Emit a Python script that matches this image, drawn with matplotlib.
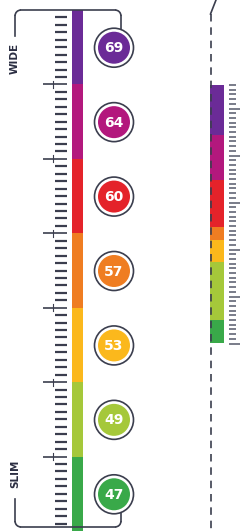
import matplotlib
matplotlib.use("Agg")
import matplotlib.pyplot as plt
import matplotlib.patches as mpatches
import numpy as np

# scale values shown in the circles, top (wide) to bottom (slim)
values = [69, 64, 60, 57, 53, 49, 47]
colors = ['#6b2b97', '#b3187d', '#e4232a', '#ef7d22', '#fbb81c', '#a5c83a', '#39a949']
labels = ['WIDE', 'SLIM']

# relative heights of the coloured parts in the small side bar
mini_sizes = [50, 45, 47, 13, 22, 58, 23]

INK = '#3b3e4e'

W, H = 242, 531
fig = plt.figure(figsize=(W / 100, H / 100), dpi=100)
ax = fig.add_axes([0, 0, 1, 1])
ax.set_xlim(0, W)
ax.set_ylim(H, 0)
ax.axis('off')

# main colour bar
top, bottom = 10, 531
seg = (bottom - top) / len(values)
starts = top + seg * np.arange(len(values))
ax.bar([77] * len(values), [seg] * len(values), bottom=starts, width=11,
       color=colors, edgecolor='none', zorder=2)

# ruler ticks to the left of the bar
n_ticks = int(round((bottom - top) / (seg / 10)))
for k in range(1, n_ticks + 1):
    y = top + k * seg / 10
    if y > bottom - 2:
        break
    if k % 10 == 0:
        ax.plot([43, 67], [y, y], color=INK, lw=1.2, solid_capstyle='butt')
        ax.plot([53, 53], [y - 3.5, y + 3.5], color=INK, lw=0.8)
    else:
        ax.plot([55, 67], [y, y], color=INK, lw=1.6, solid_capstyle='butt')

# circles with the values
cx = 114
for i, (v, c) in enumerate(zip(values, colors)):
    cy = starts[i] + seg / 2 + 0.5
    ax.add_patch(mpatches.Circle((cx, cy), 19.5, facecolor='white',
                                 edgecolor=INK, lw=1.2, zorder=3))
    ax.add_patch(mpatches.Circle((cx, cy), 16, facecolor=c,
                                 edgecolor='none', zorder=4))
    ax.text(cx, cy + 0.5, str(v), ha='center', va='center', color='white',
            fontsize=10, fontweight='bold', zorder=5)

# brackets (top = wide, bottom = slim)
r = 6
ax.plot([15, 15], [36, 10 + r], color=INK, lw=1.2)
ax.add_patch(mpatches.Arc((15 + r, 10 + r), 2 * r, 2 * r, theta1=180, theta2=270,
                          color=INK, lw=1.2))
ax.plot([15 + r, 121 - r], [10, 10], color=INK, lw=1.2)
ax.add_patch(mpatches.Arc((121 - r, 10 + r), 2 * r, 2 * r, theta1=270, theta2=360,
                          color=INK, lw=1.2))
ax.plot([121, 121], [10 + r, 31], color=INK, lw=1.2)

yb = 527
ax.plot([15, 15], [499, yb - r], color=INK, lw=1.2)
ax.add_patch(mpatches.Arc((15 + r, yb - r), 2 * r, 2 * r, theta1=90, theta2=180,
                          color=INK, lw=1.2))
ax.plot([15 + r, 121 - r], [yb, yb], color=INK, lw=1.2)
ax.add_patch(mpatches.Arc((121 - r, yb - r), 2 * r, 2 * r, theta1=0, theta2=90,
                          color=INK, lw=1.2))
ax.plot([121, 121], [yb - r, 509], color=INK, lw=1.2)

ax.text(15, 58, labels[0], rotation=90, ha='center', va='center',
        fontsize=7.5, fontweight='bold', color='#2b2e42')
ax.text(15, 474, labels[1], rotation=90, ha='center', va='center',
        fontsize=7.5, fontweight='bold', color='#2b2e42')

# small side bar
m_top = 85
m_starts = m_top + np.concatenate([[0], np.cumsum(mini_sizes)[:-1]])
ax.bar([217] * len(mini_sizes), mini_sizes, bottom=m_starts, width=14,
       color=colors, edgecolor='none', zorder=2)
m_bottom = m_top + sum(mini_sizes)
step = 4.7
k = 0
while m_top + k * step <= m_bottom + 0.5:
    y = m_top + k * step
    x1 = 240 if k % 10 == 5 else 236
    ax.plot([229, x1], [y, y], color='#55586a', lw=1.1, solid_capstyle='butt')
    k += 1

# dashed guide line
ax.plot([216, 210.5], [0, 14], color=INK, lw=1.2)
ax.plot([210.5, 210.5], [14, 531], color=INK, lw=1.2, linestyle=(0, (4.5, 3.5)), zorder=5)

fig.savefig('out.png', dpi=100, facecolor='white')
